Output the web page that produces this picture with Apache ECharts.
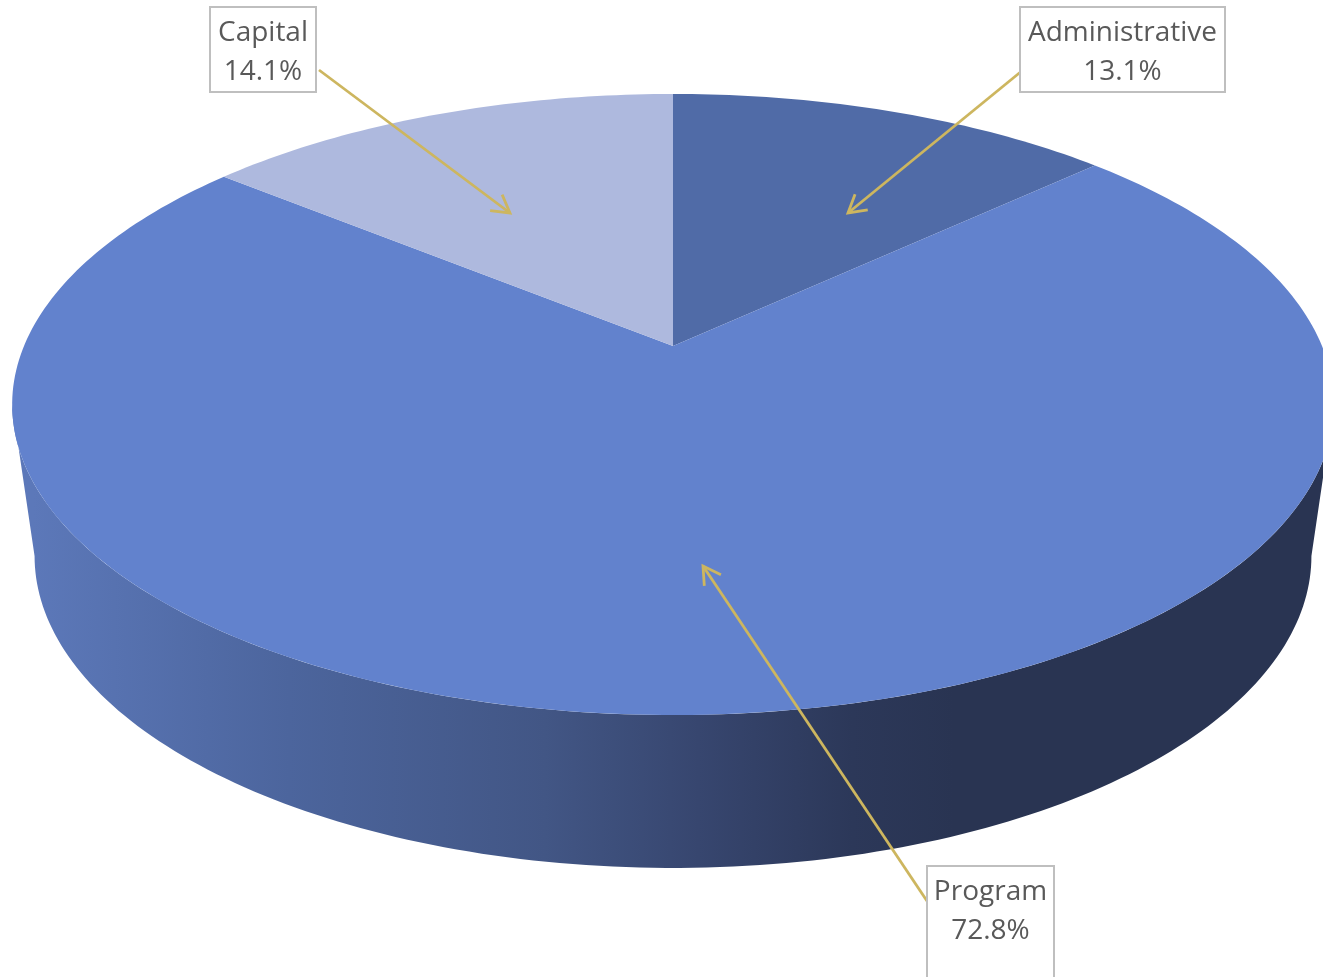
<!DOCTYPE html>
<html>
<head>
<meta charset="utf-8">
<title>Budget split</title>
<style>
  html, body { margin: 0; padding: 0; background: #fff; overflow: hidden; }
  #chart { width: 1323px; height: 977px; }
</style>
<script src="https://cdn.jsdelivr.net/npm/echarts@6/dist/echarts.min.js"></script>
</head>
<body>
<div id="chart"></div>
<script>
// Budget shares, clockwise from twelve o'clock
const categories = ['Administrative', 'Program', 'Capital'];
const shares = [13.1, 72.8, 14.1];
const sliceColors = ['#506ba7', '#6282cd', '#aeb9de'];

// Perspective model of the disc: a point on the unit circle is divided by
// (1 + k * depth) so the far rim is compressed and the near rim enlarged.
const K = 0.1884;
const topFace = { cx: 673, cy: 346, a: 649, b: 299.5 };
const bottomFace = { cx: 673, cy: 497.2, a: 627, b: 300.9 };

// Callout boxes and the points their arrows run between
const callouts = [
  { box: [1020, 7, 205, 85], from: [1023, 70], to: [848, 213] },
  { box: [927, 866, 127, 130], from: [927, 901], to: [703, 566] },
  { box: [210, 7, 106, 85], from: [319, 70], to: [510, 213] }
];

const total = shares.reduce((s, v) => s + v, 0);
const toAngle = v => (v / total) * Math.PI * 2;

function project(face, theta) {
  const x = Math.sin(theta);
  const y = Math.cos(theta);
  const w = 1 + K * y;
  return [face.cx + face.a * x / w, face.cy - face.b * y / w];
}

function arc(face, start, end) {
  const steps = Math.max(2, Math.ceil(Math.abs(end - start) / (Math.PI / 180)));
  const pts = [];
  for (let i = 0; i <= steps; i++) {
    pts.push(project(face, start + (end - start) * i / steps));
  }
  return pts;
}

function startAngle(index) {
  let sum = 0;
  for (let i = 0; i < index; i++) sum += shares[i];
  return toAngle(sum);
}

// The wall is visible only between the two silhouette points of the rim
const frontStart = Math.PI / 2 + Math.asin(K);
const frontEnd = Math.PI * 2 - frontStart;

const wallFill = {
  type: 'linear', x: 33, y: 0, x2: 1313, y2: 0, global: true,
  colorStops: [
    { offset: 0, color: '#5c78b9' },
    { offset: 0.2, color: '#4c659d' },
    { offset: 0.4, color: '#425685' },
    { offset: 0.52, color: '#37466f' },
    { offset: 0.64, color: '#2c3859' },
    { offset: 0.72, color: '#293452' },
    { offset: 1, color: '#293452' }
  ]
};

function renderSlice(params, api) {
  const i = params.dataIndex;
  const start = startAngle(i);
  const end = start + toAngle(api.value(0));
  const children = [];

  const wallStart = Math.max(start, frontStart);
  const wallEnd = Math.min(end, frontEnd);
  if (wallEnd > wallStart) {
    const points = arc(topFace, wallStart, wallEnd)
      .concat(arc(bottomFace, wallStart, wallEnd).reverse());
    children.push({ type: 'polygon', shape: { points }, style: { fill: wallFill } });
  }

  const points = [[topFace.cx, topFace.cy]].concat(arc(topFace, start, end));
  children.push({ type: 'polygon', shape: { points }, style: { fill: sliceColors[i] } });
  return { type: 'group', children };
}

function renderCallout(params, api) {
  const c = callouts[params.dataIndex];
  const [bx, by, bw, bh] = c.box;
  const [x0, y0] = c.from;
  const [x1, y1] = c.to;
  const back = Math.atan2(y0 - y1, x0 - x1);
  const wing = (sign) => [
    x1 + 20 * Math.cos(back + sign * Math.PI / 6),
    y1 + 20 * Math.sin(back + sign * Math.PI / 6)
  ];
  const lineStyle = { fill: null, stroke: '#cdb65f', lineWidth: 2.8 };
  const textStyle = (text, y) => ({
    text, x: bx + bw / 2, y,
    fill: '#595959',
    font: '400 28px "Open Sans", "Noto Sans", sans-serif',
    align: 'center', verticalAlign: 'middle'
  });
  return {
    type: 'group',
    children: [
      { type: 'line', shape: { x1: x0, y1: y0, x2: x1, y2: y1 }, style: lineStyle },
      { type: 'polyline', shape: { points: [wing(1), [x1, y1], wing(-1)] }, style: lineStyle },
      { type: 'rect', shape: { x: bx, y: by, width: bw, height: bh },
        style: { fill: '#fff', stroke: '#bfbfbf', lineWidth: 2 } },
      { type: 'text', style: textStyle(categories[params.dataIndex], by + 26) },
      { type: 'text', style: textStyle(api.value(0).toFixed(1) + '%', by + 65) }
    ]
  };
}

const seriesData = categories.map((name, i) => ({ name, value: shares[i] }));

const chart = echarts.init(document.getElementById('chart'), null, { renderer: 'canvas' });
chart.setOption({
  animation: false,
  backgroundColor: '#ffffff',
  series: [
    { type: 'custom', coordinateSystem: 'none', silent: true, z: 2,
      renderItem: renderSlice, data: seriesData },
    { type: 'custom', coordinateSystem: 'none', silent: true, z: 3,
      renderItem: renderCallout, data: seriesData }
  ]
});
</script>
</body>
</html>
